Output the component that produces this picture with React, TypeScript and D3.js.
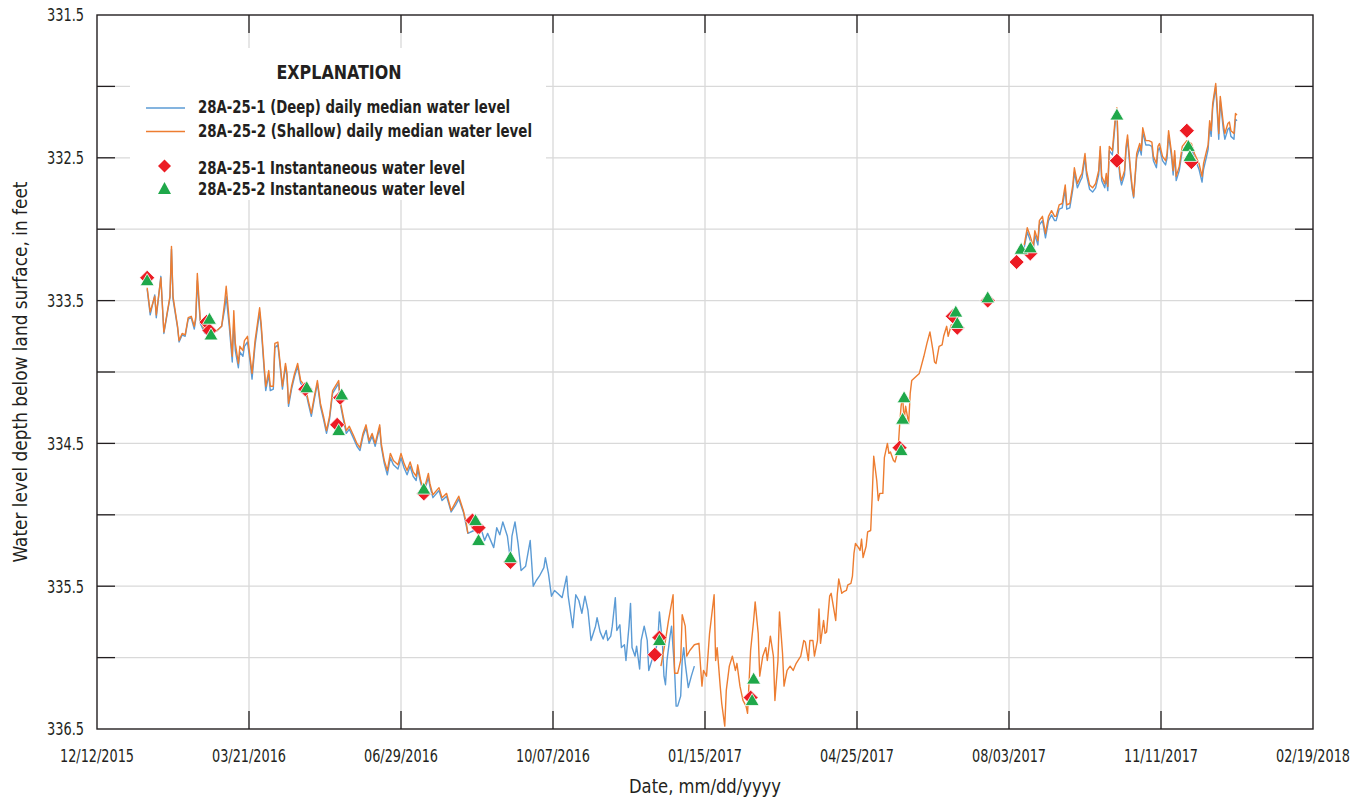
import React from "react";
import * as d3 from "d3";

// ---------- DATA ----------
// Days are counted from BASE_DATE (12/12/2015); levels are feet below land surface.
const BASE_DATE = "2015-12-12";

const xTickDays = [0, 100, 200, 300, 400, 500, 600, 700, 800];
const yTicks = [331.5, 332, 332.5, 333, 333.5, 334, 334.5, 335, 335.5, 336, 336.5];
const yLabels = [331.5, 332.5, 333.5, 334.5, 335.5, 336.5];

// 28A-25-2 (Shallow) daily median, segment 1
const shallowSeg1: [number, number][] = [
  [33,333.41],[35,333.58],[38,333.47],[39,333.60],[42,333.34],[44,333.72],[48,333.47],[49,333.12],[50,333.47],[53,333.68],[54,333.78],[56,333.73],[58,333.74],[60,333.62],[62,333.61],[64,333.68],[65,333.61],[66,333.31],[68,333.64],[71,333.71],[74,333.73],[79,333.71],[82,333.68],[84,333.51],[85,333.40],[87,333.64],[89,333.89],[90,333.57],[91,333.80],[93,333.94],[94,333.82],[96,333.85],[97,333.78],[99,333.75],[101,333.92],[102,334.01],[104,333.78],[107,333.55],[108,333.66],[110,333.96],[111,334.10],[113,333.99],[114,334.10],[116,334.10],[117,333.80],[119,333.79],[120,333.89],[122,334.10],[124,333.94],[125,334.01],[126,334.22],[128,334.10],[130,334.01],[132,333.94],[134,334.06],[137,334.10],[139,334.20],[141,334.29],[143,334.17],[145,334.06],[147,334.22],[149,334.31],[151,334.41],[153,334.31],[155,334.13],[159,334.06],[160,334.20],[162,334.31],[164,334.41],[166,334.38],[169,334.45],[171,334.50],[173,334.53],[175,334.43],[177,334.37],[179,334.48],[181,334.43],[183,334.50],[186,334.37],[187,334.50],[189,334.62],[191,334.69],[193,334.57],[195,334.62],[198,334.65],[200,334.57],[202,334.64],[204,334.69],[206,334.63],[208,334.70],[210,334.73],[211,334.65],[213,334.76],[215,334.83],[218,334.71],[219,334.78],[221,334.86],[225,334.81],[227,334.88],[230,334.85],[233,334.97],[236,334.91],[238,334.87],[241,334.97],[243,335.06],[244,335.13]
];
// segment 2
const shallowSeg2: [number, number][] = [
  [371,336.06],[374,335.88],[376,335.74],[379,335.56],[380,336.11],[382,336.11],[384,336.02],[385,335.70],[387,335.78],[388,335.99],[390,335.95],[393,335.91],[396,335.90],[398,336.20],[399,336.09],[401,336.13],[403,335.83],[406,335.56],[407,336.02],[408,335.93],[410,336.20],[411,336.32],[413,336.48],[414,336.23],[416,336.06],[418,335.99],[420,336.09],[421,336.04],[423,336.20],[425,336.30],[427,336.34],[428,336.39],[430,335.95],[432,335.74],[433,335.61],[435,335.83],[436,336.13],[438,335.99],[440,335.93],[441,336.02],[443,335.85],[445,335.99],[446,336.30],[448,336.02],[449,335.68],[451,335.97],[452,336.20],[454,336.09],[456,336.06],[458,336.09],[460,336.04],[463,335.99],[465,335.88],[466,335.89],[468,336.02],[469,335.88],[471,335.88],[472,335.99],[474,335.88],[475,335.66],[476,335.90],[478,335.74],[479,335.83],[480,335.82],[482,335.57],[483,335.55],[486,335.74],[487,335.56],[488,335.45],[490,335.55],[491,335.54],[493,335.53],[494,335.49],[496,335.48],[497,335.43],[498,335.27],[499,335.20],[501,335.23],[502,335.25],[503,335.17],[504,335.30],[506,335.22],[507,335.12],[509,335.11],[510,334.87],[511,334.59],[513,334.76],[514,334.90],[515,334.85],[517,334.85],[518,334.60],[520,334.50],[521,334.57],[522,334.56],[524,334.62],[525,334.63],[527,334.55],[528,334.38],[529,334.24],[530,334.17],[531,334.34],[532,334.24],[534,334.36],[535,334.15],[536,334.06],[541,334.01],[544,333.89],[546,333.80],[548,333.72],[550,333.85],[551,333.93],[552,333.94],[554,333.82],[556,333.81],[557,333.75],[559,333.68],[560,333.75],[562,333.67],[566,333.67]
];
// segment 3
const shallowSeg3: [number, number][] = [
  [610,333.11],[612,332.99],[614,333.05],[616,333.12],[617,333.01],[619,333.08],[620,332.94],[622,332.91],[624,333.03],[626,332.91],[628,332.87],[630,332.91],[631,332.91],[633,332.83],[635,332.82],[637,332.69],[638,332.83],[640,332.82],[642,332.69],[643,332.57],[645,332.68],[647,332.63],[648,332.61],[650,332.47],[651,332.59],[653,332.69],[655,332.71],[657,332.68],[659,332.59],[660,332.42],[661,332.63],[663,332.68],[664,332.61],[665,332.70],[666,332.42],[668,332.45],[670,332.21],[671,332.15],[672,332.49],[673,332.61],[674,332.66],[676,332.59],[677,332.42],[678,332.34],[680,332.59],[681,332.70],[682,332.77],[684,332.47],[686,332.40],[687,332.45],[688,332.29],[690,332.38],[692,332.38],[694,332.39],[695,332.49],[697,332.54],[698,332.42],[699,332.40],[701,332.49],[703,332.52],[704,332.47],[705,332.31],[707,332.47],[708,332.59],[709,332.45],[710,332.63],[712,332.56],[714,332.42],[717,332.38],[720,332.40],[722,332.47],[725,332.54],[727,332.63],[728,332.54],[730,332.45],[731,332.41],[732,332.24],[733,332.31],[734,332.12],[736,331.98],[737,332.14],[738,332.33],[739,332.07],[741,332.26],[742,332.33],[744,332.26],[745,332.25],[746,332.31],[748,332.33],[749,332.19],[750,332.20]
];

// 28A-25-1 (Deep) daily median, segment 1
const deepSeg1: [number, number][] = [
  [33,333.42],[35,333.60],[38,333.46],[39,333.62],[42,333.33],[44,333.73],[48,333.48],[49,333.14],[50,333.49],[53,333.69],[54,333.79],[56,333.74],[58,333.75],[60,333.63],[62,333.62],[64,333.70],[65,333.63],[66,333.36],[68,333.66],[71,333.73],[74,333.74],[79,333.71],[82,333.68],[84,333.56],[85,333.47],[87,333.68],[89,333.93],[90,333.64],[91,333.85],[93,333.97],[94,333.86],[96,333.89],[97,333.82],[99,333.79],[101,333.95],[102,334.05],[104,333.81],[107,333.58],[108,333.69],[110,333.99],[111,334.13],[113,334.02],[114,334.13],[116,334.12],[117,333.83],[119,333.81],[120,333.91],[122,334.12],[124,333.96],[125,334.03],[126,334.24],[128,334.12],[130,334.03],[132,333.96],[134,334.08],[137,334.12],[139,334.22],[141,334.31],[143,334.19],[145,334.08],[147,334.24],[149,334.33],[151,334.43],[153,334.33],[155,334.15],[159,334.08],[160,334.22],[162,334.33],[164,334.43],[166,334.40],[169,334.47],[171,334.52],[173,334.55],[175,334.45],[177,334.39],[179,334.50],[181,334.45],[183,334.52],[186,334.39],[187,334.52],[189,334.64],[191,334.72],[193,334.60],[195,334.65],[198,334.68],[200,334.60],[202,334.67],[204,334.72],[206,334.66],[208,334.73],[210,334.76],[211,334.68],[213,334.78],[215,334.85],[218,334.74],[219,334.80],[221,334.88],[225,334.83],[227,334.90],[230,334.87],[233,334.98],[236,334.93],[238,334.89],[241,334.98],[243,335.08],[244,335.13],
  [248,335.11],[251,335.08],[253,335.11],[255,335.18],[257,335.13],[261,335.23],[263,335.09],[265,335.14],[267,335.05],[270,335.15],[272,335.32],[273,335.15],[275,335.05],[277,335.20],[279,335.39],[282,335.36],[285,335.18],[287,335.50],[289,335.46],[291,335.43],[294,335.37],[295,335.30],[297,335.41],[299,335.57],[301,335.53],[303,335.55],[306,335.58],[309,335.43],[310,335.57],[313,335.79],[315,335.56],[317,335.60],[319,335.69],[321,335.57],[323,335.67],[325,335.88],[328,335.78],[329,335.72],[331,335.82],[333,335.87],[335,335.81],[336,335.88],[338,335.85],[339,335.78],[341,335.58],[342,335.81],[344,335.77],[345,335.93],[347,335.91],[348,336.02],[350,335.78],[351,335.62],[352,335.93],[354,335.99],[355,335.92],[357,336.08],[358,335.88],[360,335.78],[362,335.88],[363,336.09],[365,336.02],[367,335.97],[369,335.88],[370,335.68],[372,335.90],[373,336.13],[374,336.19],[375,336.02],[377,335.85],[378,335.78],[380,336.09],[381,336.34],[382,336.34],[384,336.27],[385,336.02],[386,335.93],[387,336.04],[389,336.21],[391,336.13],[393,336.06]
];
// segment 2
const deepSeg2: [number, number][] = [
  [610,333.13],[612,333.02],[614,333.08],[616,333.15],[617,333.04],[619,333.11],[620,332.97],[622,332.94],[624,333.06],[626,332.94],[628,332.90],[630,332.94],[631,332.94],[633,332.86],[635,332.85],[637,332.72],[638,332.86],[640,332.85],[642,332.72],[643,332.60],[645,332.71],[647,332.66],[648,332.64],[650,332.50],[651,332.62],[653,332.72],[655,332.74],[657,332.71],[659,332.62],[660,332.45],[661,332.66],[663,332.71],[664,332.64],[665,332.73],[666,332.45],[668,332.48],[670,332.24],[671,332.18],[672,332.52],[673,332.64],[674,332.69],[676,332.62],[677,332.45],[678,332.37],[680,332.62],[681,332.72],[682,332.78],[684,332.50],[686,332.43],[687,332.48],[688,332.32],[690,332.41],[692,332.41],[694,332.42],[695,332.52],[697,332.57],[698,332.45],[699,332.43],[701,332.52],[703,332.55],[704,332.50],[705,332.34],[707,332.50],[708,332.62],[709,332.48],[710,332.66],[712,332.59],[714,332.45],[717,332.41],[720,332.43],[722,332.50],[725,332.58],[727,332.67],[728,332.58],[730,332.49],[731,332.44],[732,332.28],[733,332.35],[734,332.15],[736,332.00],[737,332.18],[738,332.37],[739,332.10],[741,332.30],[742,332.37],[744,332.30],[745,332.29],[746,332.35],[748,332.37],[749,332.23],[750,332.24]
];

// Instantaneous measurements
const deepInstant: [number, number][] = [
  [33,333.34],[72,333.65],[74,333.71],[137,334.12],[160,334.18],[158,334.37],[215,334.85],[247,335.04],[251,335.09],[272,335.33],[367,335.98],[370,335.86],[430,336.28],[528,334.53],[563,333.61],[566,333.69],[586,333.50],[605,333.23],[614,333.17],[671,332.52],[717,332.31],[720,332.53]
];
const shallowInstant: [number, number][] = [
  [33,333.36],[74,333.63],[75,333.74],[138,334.11],[161,334.16],[159,334.41],[215,334.82],[249,335.04],[251,335.18],[272,335.30],[370,335.88],[432,336.15],[431,336.30],[531,334.18],[530,334.33],[529,334.55],[565,333.58],[566,333.66],[586,333.48],[608,333.14],[614,333.13],[671,332.20],[718,332.42],[719,332.49]
];

// ---------- STYLE ----------
const W = 1368, H = 799;
const M = { left: 97, right: 1313, top: 15, bottom: 729 };
const FONT = "'DejaVu Sans Condensed', 'Liberation Sans Narrow', sans-serif";
const BLUE = "#5b9bd5";
const ORANGE = "#ed7d31";
const RED = "#ec1c24";
const GREEN = "#1fa84a";
const GRID = "#d9d9d9";
const AXIS = "#231f20";

const base = d3.timeParse("%Y-%m-%d")(BASE_DATE) as Date;
const toDate = (d: number) => d3.timeDay.offset(base, d);

const diamond = (s: number) => `M0,${-s}L${s},0L0,${s}L${-s},0Z`;
const triangle = (w: number, h: number) => `M0,${-h * 0.58}L${w / 2},${h * 0.42}L${-w / 2},${h * 0.42}Z`;

export default function App() {
  const x = d3.scaleTime().domain([toDate(0), toDate(800)]).range([M.left, M.right]);
  const y = d3.scaleLinear().domain([331.5, 336.5]).range([M.top, M.bottom]);
  const line = d3.line<[number, number]>().x(d => x(toDate(d[0]))).y(d => y(d[1]));
  const fmt = d3.timeFormat("%m/%d/%Y");
  const tickLen = 18;
  const fit = { lengthAdjust: "spacingAndGlyphs" as const };

  return (
    <svg width={W} height={H} style={{ position: "absolute", left: 0, top: 0, background: "#fff" }}
      fontFamily={FONT}>
      {/* gridlines */}
      {xTickDays.slice(1, -1).map(d => (
        <line key={"gx" + d} x1={x(toDate(d))} x2={x(toDate(d))} y1={M.top} y2={M.bottom} stroke={GRID} strokeWidth={1.3} />
      ))}
      {yTicks.slice(1, -1).map(v => (
        <line key={"gy" + v} x1={M.left} x2={M.right} y1={y(v)} y2={y(v)} stroke={GRID} strokeWidth={1.3} />
      ))}
      {/* ticks (inward) */}
      {xTickDays.slice(1, -1).map(d => (
        <g key={"tx" + d} stroke={AXIS} strokeWidth={1.3}>
          <line x1={x(toDate(d))} x2={x(toDate(d))} y1={M.bottom} y2={M.bottom - tickLen} />
          <line x1={x(toDate(d))} x2={x(toDate(d))} y1={M.top} y2={M.top + tickLen} />
        </g>
      ))}
      {yTicks.slice(1, -1).map(v => (
        <g key={"ty" + v} stroke={AXIS} strokeWidth={1.3}>
          <line x1={M.left} x2={M.left + tickLen} y1={y(v)} y2={y(v)} />
          <line x1={M.right} x2={M.right - tickLen} y1={y(v)} y2={y(v)} />
        </g>
      ))}

      {/* legend background */}
      <rect x={130} y={48} width={416} height={152} fill="#fff" />

      {/* daily median lines */}
      {[deepSeg1, deepSeg2].map((s, i) => (
        <path key={"d" + i} d={line(s) || ""} fill="none" stroke={BLUE} strokeWidth={1.4} strokeLinejoin="round" />
      ))}
      {[shallowSeg1, shallowSeg2, shallowSeg3].map((s, i) => (
        <path key={"s" + i} d={line(s) || ""} fill="none" stroke={ORANGE} strokeWidth={1.4} strokeLinejoin="round" />
      ))}

      {/* instantaneous */}
      {deepInstant.map((p, i) => (
        <path key={"di" + i} d={diamond(7.5)} transform={`translate(${x(toDate(p[0]))},${y(p[1])})`}
          fill={RED} stroke="#fff" strokeWidth={0.8} />
      ))}
      {shallowInstant.map((p, i) => (
        <path key={"si" + i} d={triangle(14, 12)} transform={`translate(${x(toDate(p[0]))},${y(p[1])})`}
          fill={GREEN} stroke="#fff" strokeWidth={0.8} />
      ))}

      {/* frame */}
      <rect x={M.left} y={M.top} width={M.right - M.left} height={M.bottom - M.top} fill="none" stroke={AXIS} strokeWidth={1.4} />

      {/* y labels */}
      {yLabels.map(v => (
        <text key={"yl" + v} x={84} y={y(v)} dy="0.36em" textAnchor="end" fontSize={18} fill={AXIS}
          textLength={37} {...fit}>{v.toFixed(1)}</text>
      ))}
      {/* x labels */}
      {xTickDays.map(d => (
        <text key={"xl" + d} x={x(toDate(d))} y={762} textAnchor="middle" fontSize={18} fill={AXIS}
          textLength={74} {...fit}>{fmt(toDate(d))}</text>
      ))}

      {/* axis titles */}
      <text x={705} y={793} textAnchor="middle" fontSize={20} fill={AXIS} textLength={152} {...fit}>Date, mm/dd/yyyy</text>
      <text transform="translate(27,372) rotate(-90)" textAnchor="middle" fontSize={20} fill={AXIS} textLength={381} {...fit}>
        Water level depth below land surface, in feet
      </text>

      {/* legend */}
      <g fill={AXIS} fontWeight="bold">
        <text x={339} y={79} textAnchor="middle" fontSize={20} textLength={125} {...fit}>EXPLANATION</text>
        <line x1={146} x2={185} y1={108} y2={108} stroke={BLUE} strokeWidth={1.6} />
        <text x={198} y={113} fontSize={17.5} textLength={312} {...fit}>28A-25-1 (Deep) daily median water level</text>
        <line x1={146} x2={185} y1={131.5} y2={131.5} stroke={ORANGE} strokeWidth={1.6} />
        <text x={198} y={137} fontSize={17.5} textLength={334} {...fit}>28A-25-2 (Shallow) daily median water level</text>
        <path d={diamond(6.5)} transform="translate(164.5,166)" fill={RED} />
        <text x={198} y={173.5} fontSize={17.5} textLength={267} {...fit}>28A-25-1 Instantaneous water level</text>
        <path d={triangle(13, 12)} transform="translate(164.5,189)" fill={GREEN} />
        <text x={198} y={195} fontSize={17.5} textLength={267} {...fit}>28A-25-2 Instantaneous water level</text>
      </g>
    </svg>
  );
}
